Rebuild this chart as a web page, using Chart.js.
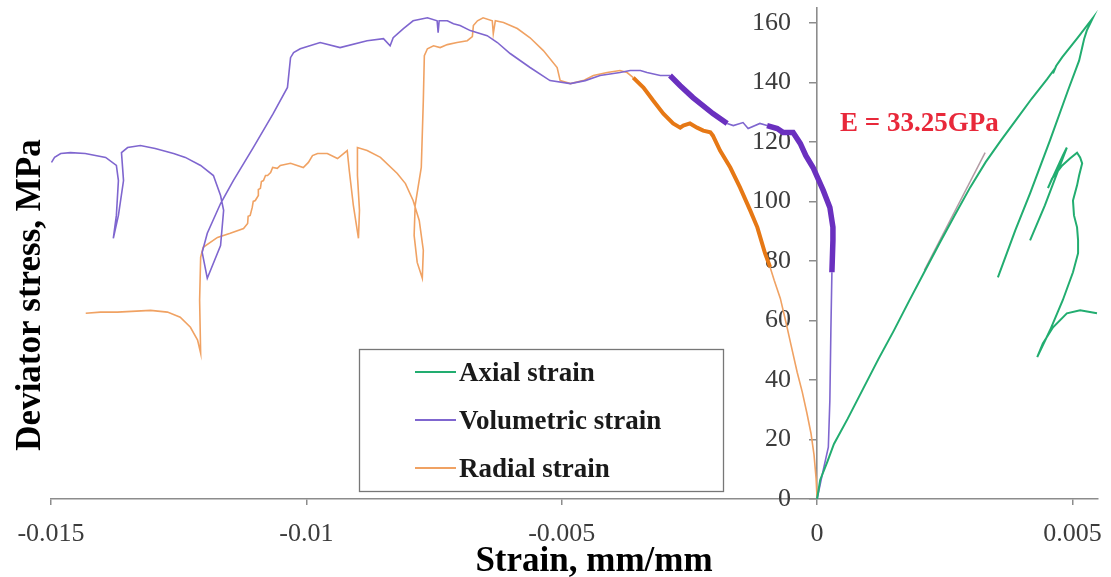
<!DOCTYPE html>
<html><head><meta charset="utf-8">
<script src="https://cdn.jsdelivr.net/npm/chart.js@4.4.1/dist/chart.umd.min.js"></script>
<style>html,body{margin:0;padding:0;background:#fff;}#wrap{width:1111px;height:577px;}</style>
</head><body><div id="wrap"><canvas id="c" width="1111" height="577"></canvas></div>
<script>
const xTickValues = [-0.015, -0.01, -0.005, 0, 0.005];
const yTickValues = [0, 20, 40, 60, 80, 100, 120, 140, 160];
const seriesNames = ['Axial strain', 'Volumetric strain', 'Radial strain'];
const xTitle = 'Strain, mm/mm';
const yTitle = 'Deviator stress, MPa';
const modulusLabel = 'E = 33.25GPa';

// [strain, stress]
const axialPts = [
 [0,0],[0.00006,6.4],[0.0002,12.5],[0.00033,18.5],[0.0006,27],[0.0009,37],[0.0012,47],[0.0015,56.5],
 [0.0018,66.5],[0.0021,76.3],[0.0024,86],[0.0027,95.5],[0.003,104.8],[0.0033,113.2],[0.0036,120.5],
 [0.0039,127.5],[0.0042,134.5],[0.0045,141],[0.00465,144.5],[0.00462,143],[0.00468,145.5],[0.0048,148.5],
 [0.0051,155],[0.0054,161.7],
 [0.00528,157.4],[0.00523,154.7],[0.00519,151.7],[0.00513,147.3],[0.00491,137.2],[0.00456,120.5],
 [0.00417,102.7],[0.00388,90.3],[0.00354,74.5],
 [null,null],
 [0.00417,86.9],[0.00446,98.7],[0.00472,110.4],[0.00489,118.1],[0.00481,115.4],[0.00468,110.5],[0.00452,104.5],
 [0.0046,107.7],[0.0048,112.1],[0.00495,114.4],[0.00509,116.4],[0.00515,114.8],[0.00519,112.8],[0.00513,108.7],
 [0.00509,105.4],[0.00501,100.3],[0.00503,95.3],[0.00509,91.3],[0.00511,86.9],[0.00511,82.6],[0.00501,76.2],
 [0.00481,66.8],[0.00456,56.7],[0.00431,47.7],[0.00442,52.3],[0.00462,57.7],[0.00489,62.4],[0.00515,63.4],[0.00548,62.4]
];
const volumetricPts = [
 [0,0],[0.00012,9.7],[0.00022,17.4],[0.00025,33.2],[0.00027,56.7],[0.00029,76.2],[0.00031,86.9],[0.00031,91.3],
 [0.00025,98.0],[0.00012,103.7],[-0.00008,111.4],[-0.00022,115.4],[-0.00033,119.5],[-0.00047,123.2],[-0.00067,123.2],
 [-0.00078,124.5],[-0.00098,125.5],[-0.00112,126.2],[-0.00135,124.5],[-0.00145,126.5],[-0.00164,125.5],[-0.00176,126.2],
 [-0.00204,129.5],[-0.00243,134.9],[-0.00268,138.9],[-0.00288,142.3],[-0.00307,142.3],[-0.00333,143.3],[-0.00346,144.0],
 [-0.00366,144.0],[-0.00386,143.3],[-0.00425,142.3],[-0.00454,140.6],[-0.00483,139.6],[-0.00523,140.6],[-0.00562,145.0],
 [-0.00601,149.7],[-0.00626,153.4],[-0.00646,155.7],[-0.00665,156.7],[-0.00679,157.4],[-0.00699,159.1],[-0.00712,159.7],
 [-0.00724,160.7],[-0.0074,160.7],[-0.00742,156.7],[-0.00744,160.7],[-0.00763,161.7],[-0.00791,160.7],[-0.0081,158.1],
 [-0.0083,155.0],[-0.00836,152.3],[-0.00849,154.7],[-0.00881,154.0],[-0.00934,151.7],[-0.00973,153.4],[-0.01012,151.3],
 [-0.01025,150.0],[-0.01031,148.3],[-0.01037,138.3],[-0.01065,129.5],[-0.01104,118.1],[-0.01143,107.0],[-0.01168,99.3],
 [-0.01194,89.3],[-0.01204,82.9],[-0.01194,74.2],[-0.01168,85.2],[-0.01162,97.0],[-0.01168,102.0],[-0.01182,108.7],
 [-0.01207,112.1],[-0.01237,114.8],[-0.0126,116.1],[-0.01296,117.8],[-0.01325,118.8],[-0.0135,118.1],[-0.01362,116.4],
 [-0.01358,107.0],[-0.01368,95.3],[-0.01378,87.6],[-0.01372,95.3],[-0.01368,107.0],[-0.01372,112.1],[-0.01393,114.8],
 [-0.01433,116.1],[-0.01462,116.4],[-0.01481,116.1],[-0.01493,114.8],[-0.01499,113.1]
];
const radialPts = [
 [0,0],[-0.00002,7.0],[-0.00006,14.8],[-0.00012,22.1],[-0.0002,28.9],[-0.00029,35.9],[-0.00039,42.6],[-0.00051,51.7],
 [-0.00061,59.4],[-0.00072,67.4],[-0.00084,73.5],[-0.00092,77.9],[-0.00102,82.6],[-0.00117,91.3],[-0.00131,97.0],
 [-0.00151,104.7],[-0.0017,111.4],[-0.0019,117.1],[-0.00204,122.1],[-0.00209,123.2],[-0.00223,123.8],[-0.00235,124.8],
 [-0.00249,126.2],[-0.00262,125.5],[-0.00268,124.8],[-0.00282,126.2],[-0.00301,129.5],[-0.00321,133.9],[-0.0034,138.3],
 [-0.0036,141.6],[-0.00372,143.3],[-0.00386,144.0],[-0.00411,143.3],[-0.00438,142.3],[-0.00458,140.6],[-0.00483,139.6],
 [-0.00503,140.6],[-0.00509,145.0],[-0.00536,150.7],[-0.00562,155.0],[-0.00587,158.1],[-0.00614,160.1],[-0.0063,160.7],
 [-0.00634,156.4],[-0.00636,160.7],[-0.00654,161.7],[-0.00665,160.7],[-0.00673,159.1],[-0.00675,155.4],[-0.00685,154.0],
 [-0.00705,153.4],[-0.00724,152.7],[-0.00738,151.7],[-0.00751,152.3],[-0.00763,151.3],[-0.00769,149.0],[-0.00771,133.9],
 [-0.00775,111.4],[-0.00787,98.7],[-0.00789,88.6],[-0.00783,79.5],[-0.00773,74.2],[-0.00771,83.6],[-0.00779,93.6],
 [-0.00791,100.3],[-0.00806,106.0],[-0.00822,109.4],[-0.00855,114.8],[-0.00881,117.1],[-0.009,118.1],[-0.009,108.7],
 [-0.00896,97.0],[-0.00898,87.6],[-0.00908,98.7],[-0.00916,110.4],[-0.0092,117.1],[-0.00939,114.4],[-0.00959,116.1],
 [-0.00978,116.1],[-0.00988,115.4],[-0.00996,113.1],[-0.01006,111.4],[-0.01018,112.1],[-0.01031,112.8],[-0.01051,112.1],
 [-0.01057,111.1],[-0.01066,111.4],[-0.0107,109.7],[-0.01076,108.7],[-0.0108,108.7],[-0.01084,107.0],[-0.01088,106.7],
 [-0.0109,104.4],[-0.01094,104.0],[-0.01094,102.0],[-0.011,100.3],[-0.01104,100.0],[-0.01106,98.0],[-0.0111,95.3],
 [-0.01114,95.0],[-0.01115,92.6],[-0.01123,90.9],[-0.01149,89.3],[-0.01174,87.9],[-0.01202,84.6],[-0.01207,81.2],
 [-0.01209,66.8],[-0.01207,49.0],[-0.01213,53.4],[-0.01227,57.7],[-0.01247,61.1],[-0.01272,62.8],[-0.01305,63.4],
 [-0.0137,62.8],[-0.01403,62.8],[-0.01432,62.4]
];
const tangentPts = [[0.0021,76.8],[0.00329,116.4]];

const toXY = pts => pts.map(p => ({x: p[0], y: p[1]}));
const COL = {
  axial: '#22ad70', vol: '#7f66cf', volThick: '#6a30bf', rad: '#f0a263', radThick: '#e67815', tangent: '#b39ba4'
};
function segPts(ctx) {
  const d = ctx.chart.data.datasets[ctx.datasetIndex].data;
  return [d[ctx.p0DataIndex], d[ctx.p1DataIndex]];
}
const volZone = p => (p.x >= -0.001 && p.y >= 75) || (p.x <= -0.00175 && p.x >= -0.0029 && p.y >= 120);
const radZone = p => p.x >= -0.0037 && p.x <= -0.0009 && p.y >= 77;
const volThick = ctx => { const [a, b] = segPts(ctx); return volZone(a) && volZone(b); };
const radThick = ctx => { const [a, b] = segPts(ctx); return radZone(a) && radZone(b); };

const SERIF = '"Liberation Serif", "Times New Roman", serif';
Chart.defaults.font.family = SERIF;
const NB = '\u00a0';

const overlayPlugin = {
  id: 'overlay',
  afterDraw(chart) {
    const ctx = chart.ctx;
    ctx.save();
    ctx.fillStyle = '#000';
    ctx.font = 'bold 35px ' + SERIF;
    ctx.textAlign = 'center';
    ctx.textBaseline = 'alphabetic';
    ctx.fillText(xTitle, 594, 571);
    ctx.save();
    ctx.translate(40, 295);
    ctx.rotate(-Math.PI / 2);
    ctx.fillText(yTitle, 0, 0);
    ctx.restore();
    ctx.fillStyle = '#e8283a';
    ctx.font = 'bold 27px ' + SERIF;
    ctx.textAlign = 'left';
    ctx.fillText(modulusLabel, 840, 131);
    const L = 359, T = 349, W = 364, H = 142;
    ctx.fillStyle = '#fff';
    ctx.fillRect(L, T, W, H);
    ctx.strokeStyle = '#777';
    ctx.lineWidth = 1.3;
    ctx.strokeRect(L + 0.5, T + 0.5, W, H);
    const rows = [372, 420, 468];
    const ds = chart.data.datasets;
    ctx.font = 'bold 27px ' + SERIF;
    for (let i = 0; i < 3; i++) {
      ctx.strokeStyle = ds[i].borderColor;
      ctx.lineWidth = 2;
      ctx.beginPath();
      ctx.moveTo(415, rows[i]);
      ctx.lineTo(456, rows[i]);
      ctx.stroke();
      ctx.fillStyle = '#1a1a1a';
      ctx.fillText(ds[i].label, 459, rows[i] + 9);
    }
    ctx.restore();
  }
};

new Chart(document.getElementById('c'), {
  type: 'line',
  data: {
    datasets: [
      { label: seriesNames[0], data: toXY(axialPts), borderColor: COL.axial, borderWidth: 2, pointRadius: 0, tension: 0, spanGaps: false },
      { label: seriesNames[1], data: toXY(volumetricPts), borderColor: COL.vol, borderWidth: 1.6, pointRadius: 0, tension: 0,
        segment: { borderWidth: ctx => volThick(ctx) ? 5.5 : undefined, borderColor: ctx => volThick(ctx) ? COL.volThick : undefined } },
      { label: seriesNames[2], data: toXY(radialPts), borderColor: COL.rad, borderWidth: 1.6, pointRadius: 0, tension: 0,
        segment: { borderWidth: ctx => radThick(ctx) ? 4 : undefined, borderColor: ctx => radThick(ctx) ? COL.radThick : undefined } },
      { label: 'tangent', data: toXY(tangentPts), borderColor: COL.tangent, borderWidth: 1.5, pointRadius: 0, tension: 0 }
    ]
  },
  options: {
    responsive: false,
    animation: false,
    devicePixelRatio: 1,
    layout: { padding: { left: 51, right: 13, top: 8, bottom: 0 } },
    plugins: { legend: { display: false }, tooltip: { enabled: false } },
    events: [],
    scales: {
      x: {
        type: 'linear', min: -0.015, max: 0.0055,
        afterBuildTicks: s => { s.ticks = xTickValues.map(v => ({ value: v })); },
        afterFit: s => { s.height = 78; s.paddingLeft = 0; s.paddingRight = 0; },
        grid: { display: true, drawOnChartArea: false, drawTicks: true, tickLength: 6, color: '#8c8c8c', lineWidth: 1.5 },
        border: { display: true, color: '#8c8c8c', width: 1.6 },
        ticks: { padding: 14, color: '#3c3c3c', font: { size: 26 }, maxRotation: 0, autoSkip: false,
                 callback: v => String(+Number(v).toFixed(4)) }
      },
      y: {
        type: 'linear', min: 0, max: 165, position: { x: 0 },
        afterBuildTicks: s => { s.ticks = yTickValues.map(v => ({ value: v })); },
        afterFit: s => { s.paddingTop = 0; s.paddingBottom = 0; },
        grid: { display: true, drawOnChartArea: false, drawTicks: true, tickLength: 7, color: '#8c8c8c', lineWidth: 1.5 },
        border: { display: true, color: '#8c8c8c', width: 1.6 },
        ticks: { padding: 16, color: '#3c3c3c', font: { size: 26 }, autoSkip: false,
                 callback: v => String(v) + NB + NB + NB + NB }
      }
    }
  },
  plugins: [overlayPlugin]
});
</script>
</body></html>
